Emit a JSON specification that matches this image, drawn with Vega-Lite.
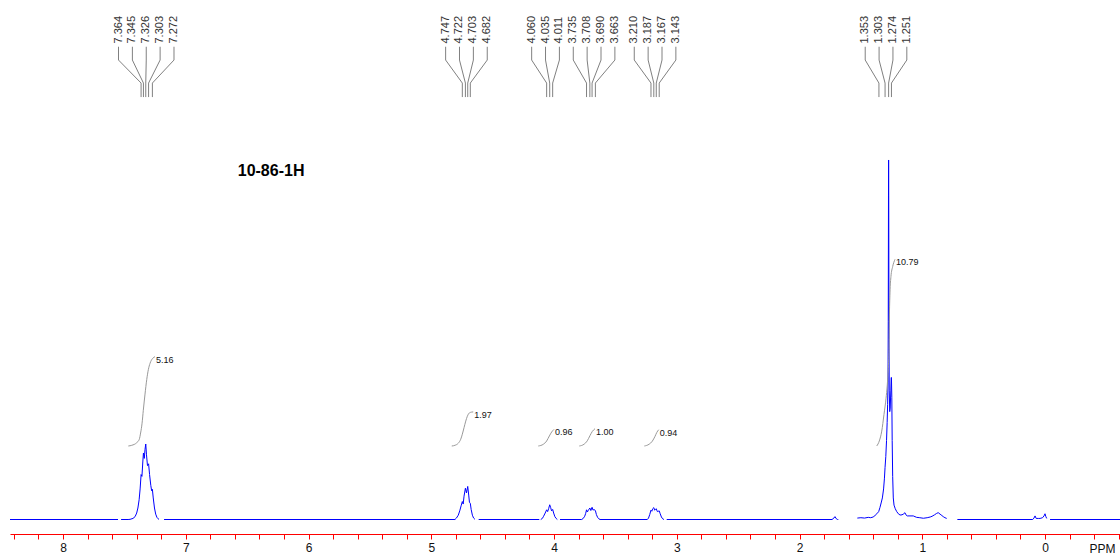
{
  "$schema": "https://vega.github.io/schema/vega-lite/v6.json",
  "width": 1110,
  "height": 534,
  "autosize": {"type": "none"},
  "padding": {"left": 10, "top": 0, "right": 0, "bottom": 19},
  "background": "white",
  "config": {
    "view": {"stroke": null},
    "font": "Liberation Sans",
    "axisX": {
      "domainColor": "#ff0000",
      "domainWidth": 1,
      "tickColor": "#ff0000",
      "tickWidth": 1,
      "tickSize": 5,
      "labelColor": "#111111",
      "labelFont": "Liberation Sans",
      "labelFontSize": 12,
      "labelPadding": 3,
      "labelOverlap": false,
      "labelFlush": false,
      "labelBound": false,
      "grid": false,
      "titleAnchor": "start",
      "titleAlign": "left",
      "titleBaseline": "top",
      "titleX": 1079,
      "titleY": 9,
      "titleFont": "Liberation Sans",
      "titleFontSize": 12,
      "titleFontWeight": "normal",
      "titleColor": "#111111"
    }
  },
  "datasets": {
    "spectrum": [
      {"ppm": 8.432, "i": 0, "seg": 1}, {"ppm": 7.552, "i": 0, "seg": 1},
      {"ppm": 7.527, "i": 0, "seg": 2}, {"ppm": 7.47, "i": 0, "seg": 2}, {"ppm": 7.454, "i": 0.05, "seg": 2},
      {"ppm": 7.43, "i": 0.3, "seg": 2}, {"ppm": 7.413, "i": 0.8, "seg": 2}, {"ppm": 7.4, "i": 1.8, "seg": 2},
      {"ppm": 7.39, "i": 3.2, "seg": 2}, {"ppm": 7.38, "i": 5.5, "seg": 2}, {"ppm": 7.372, "i": 8.5, "seg": 2},
      {"ppm": 7.364, "i": 12.5, "seg": 2}, {"ppm": 7.357, "i": 12.0, "seg": 2}, {"ppm": 7.35, "i": 16.0, "seg": 2},
      {"ppm": 7.345, "i": 18.5, "seg": 2}, {"ppm": 7.338, "i": 17.0, "seg": 2}, {"ppm": 7.332, "i": 19.5, "seg": 2},
      {"ppm": 7.326, "i": 21.0, "seg": 2}, {"ppm": 7.32, "i": 18.0, "seg": 2}, {"ppm": 7.312, "i": 15.0, "seg": 2},
      {"ppm": 7.303, "i": 15.5, "seg": 2}, {"ppm": 7.295, "i": 12.5, "seg": 2}, {"ppm": 7.285, "i": 9.5, "seg": 2},
      {"ppm": 7.278, "i": 8.0, "seg": 2}, {"ppm": 7.272, "i": 8.4, "seg": 2}, {"ppm": 7.265, "i": 6.0, "seg": 2},
      {"ppm": 7.255, "i": 3.2, "seg": 2}, {"ppm": 7.245, "i": 1.5, "seg": 2}, {"ppm": 7.235, "i": 0.6, "seg": 2},
      {"ppm": 7.225, "i": 0.2, "seg": 2}, {"ppm": 7.218, "i": 0, "seg": 2},
      {"ppm": 7.177, "i": 0, "seg": 3}, {"ppm": 4.807, "i": 0, "seg": 3}, {"ppm": 4.795, "i": 0.4, "seg": 3},
      {"ppm": 4.78, "i": 1.2, "seg": 3}, {"ppm": 4.768, "i": 2.4, "seg": 3}, {"ppm": 4.757, "i": 3.8, "seg": 3},
      {"ppm": 4.747, "i": 5.0, "seg": 3}, {"ppm": 4.74, "i": 4.3, "seg": 3}, {"ppm": 4.733, "i": 6.5, "seg": 3},
      {"ppm": 4.722, "i": 8.7, "seg": 3}, {"ppm": 4.713, "i": 7.4, "seg": 3}, {"ppm": 4.703, "i": 9.2, "seg": 3},
      {"ppm": 4.695, "i": 6.8, "seg": 3}, {"ppm": 4.689, "i": 4.8, "seg": 3}, {"ppm": 4.682, "i": 4.5, "seg": 3},
      {"ppm": 4.675, "i": 2.8, "seg": 3}, {"ppm": 4.665, "i": 1.2, "seg": 3}, {"ppm": 4.655, "i": 0.4, "seg": 3},
      {"ppm": 4.644, "i": 0.05, "seg": 3},
      {"ppm": 4.614, "i": 0, "seg": 4}, {"ppm": 4.12, "i": 0, "seg": 4},
      {"ppm": 4.108, "i": 0, "seg": 5}, {"ppm": 4.095, "i": 0.3, "seg": 5}, {"ppm": 4.085, "i": 0.9, "seg": 5},
      {"ppm": 4.072, "i": 1.8, "seg": 5}, {"ppm": 4.06, "i": 2.7, "seg": 5}, {"ppm": 4.052, "i": 2.2, "seg": 5},
      {"ppm": 4.044, "i": 3.0, "seg": 5}, {"ppm": 4.035, "i": 4.1, "seg": 5}, {"ppm": 4.027, "i": 3.3, "seg": 5},
      {"ppm": 4.02, "i": 2.4, "seg": 5}, {"ppm": 4.011, "i": 2.8, "seg": 5}, {"ppm": 4.003, "i": 1.8, "seg": 5},
      {"ppm": 3.993, "i": 0.8, "seg": 5}, {"ppm": 3.983, "i": 0.3, "seg": 5}, {"ppm": 3.973, "i": 0, "seg": 5},
      {"ppm": 3.951, "i": 0, "seg": 6}, {"ppm": 3.775, "i": 0, "seg": 6}, {"ppm": 3.762, "i": 0.3, "seg": 6},
      {"ppm": 3.75, "i": 0.9, "seg": 6}, {"ppm": 3.742, "i": 1.7, "seg": 6}, {"ppm": 3.735, "i": 2.7, "seg": 6},
      {"ppm": 3.728, "i": 2.1, "seg": 6}, {"ppm": 3.72, "i": 2.6, "seg": 6}, {"ppm": 3.714, "i": 2.9, "seg": 6},
      {"ppm": 3.708, "i": 3.2, "seg": 6}, {"ppm": 3.7, "i": 2.5, "seg": 6}, {"ppm": 3.69, "i": 3.4, "seg": 6},
      {"ppm": 3.682, "i": 2.6, "seg": 6}, {"ppm": 3.675, "i": 2.8, "seg": 6}, {"ppm": 3.663, "i": 2.5, "seg": 6},
      {"ppm": 3.655, "i": 1.4, "seg": 6}, {"ppm": 3.645, "i": 0.6, "seg": 6}, {"ppm": 3.635, "i": 0.2, "seg": 6},
      {"ppm": 3.625, "i": 0, "seg": 6}, {"ppm": 3.24, "i": 0, "seg": 6}, {"ppm": 3.23, "i": 0.4, "seg": 6},
      {"ppm": 3.22, "i": 1.4, "seg": 6}, {"ppm": 3.21, "i": 2.6, "seg": 6}, {"ppm": 3.203, "i": 2.3, "seg": 6},
      {"ppm": 3.196, "i": 3.0, "seg": 6}, {"ppm": 3.187, "i": 3.3, "seg": 6}, {"ppm": 3.18, "i": 2.6, "seg": 6},
      {"ppm": 3.173, "i": 2.8, "seg": 6}, {"ppm": 3.167, "i": 3.0, "seg": 6}, {"ppm": 3.158, "i": 2.2, "seg": 6},
      {"ppm": 3.15, "i": 2.3, "seg": 6}, {"ppm": 3.143, "i": 2.4, "seg": 6}, {"ppm": 3.135, "i": 1.6, "seg": 6},
      {"ppm": 3.125, "i": 0.7, "seg": 6}, {"ppm": 3.115, "i": 0.2, "seg": 6}, {"ppm": 3.104, "i": 0, "seg": 6},
      {"ppm": 3.082, "i": 0, "seg": 7}, {"ppm": 1.735, "i": 0, "seg": 7}, {"ppm": 1.72, "i": 0.4, "seg": 7},
      {"ppm": 1.711, "i": 0.8, "seg": 7}, {"ppm": 1.7, "i": 0.2, "seg": 7}, {"ppm": 1.69, "i": 0, "seg": 7},
      {"ppm": 1.684, "i": 0, "seg": 7},
      {"ppm": 1.529, "i": 0.4, "seg": 8}, {"ppm": 1.5, "i": 0.5, "seg": 8}, {"ppm": 1.47, "i": 0.4, "seg": 8},
      {"ppm": 1.44, "i": 0.6, "seg": 8}, {"ppm": 1.42, "i": 0.5, "seg": 8}, {"ppm": 1.4, "i": 0.7, "seg": 8},
      {"ppm": 1.385, "i": 1.1, "seg": 8}, {"ppm": 1.37, "i": 1.6, "seg": 8}, {"ppm": 1.355, "i": 2.2, "seg": 8},
      {"ppm": 1.345, "i": 3.3, "seg": 8}, {"ppm": 1.335, "i": 4.6, "seg": 8}, {"ppm": 1.325, "i": 6.0, "seg": 8},
      {"ppm": 1.315, "i": 8.5, "seg": 8}, {"ppm": 1.308, "i": 11.5, "seg": 8}, {"ppm": 1.303, "i": 14.5, "seg": 8},
      {"ppm": 1.297, "i": 17.5, "seg": 8}, {"ppm": 1.291, "i": 22, "seg": 8}, {"ppm": 1.286, "i": 27, "seg": 8},
      {"ppm": 1.282, "i": 32, "seg": 8}, {"ppm": 1.279, "i": 38, "seg": 8}, {"ppm": 1.277, "i": 55, "seg": 8},
      {"ppm": 1.275, "i": 90, "seg": 8}, {"ppm": 1.274, "i": 100, "seg": 8}, {"ppm": 1.273, "i": 90, "seg": 8},
      {"ppm": 1.271, "i": 50, "seg": 8}, {"ppm": 1.269, "i": 36, "seg": 8}, {"ppm": 1.265, "i": 30, "seg": 8},
      {"ppm": 1.261, "i": 31, "seg": 8}, {"ppm": 1.256, "i": 36, "seg": 8}, {"ppm": 1.253, "i": 39.5, "seg": 8},
      {"ppm": 1.251, "i": 39.5, "seg": 8}, {"ppm": 1.248, "i": 34, "seg": 8}, {"ppm": 1.245, "i": 22, "seg": 8},
      {"ppm": 1.241, "i": 12, "seg": 8}, {"ppm": 1.236, "i": 6, "seg": 8}, {"ppm": 1.23, "i": 4.0, "seg": 8},
      {"ppm": 1.22, "i": 3.0, "seg": 8}, {"ppm": 1.208, "i": 2.2, "seg": 8}, {"ppm": 1.195, "i": 1.6, "seg": 8},
      {"ppm": 1.181, "i": 1.25, "seg": 8}, {"ppm": 1.165, "i": 1.3, "seg": 8}, {"ppm": 1.15, "i": 1.6, "seg": 8},
      {"ppm": 1.141, "i": 1.9, "seg": 8}, {"ppm": 1.133, "i": 1.3, "seg": 8}, {"ppm": 1.122, "i": 1.0, "seg": 8},
      {"ppm": 1.1, "i": 1.0, "seg": 8}, {"ppm": 1.073, "i": 1.0, "seg": 8}, {"ppm": 1.046, "i": 0.6, "seg": 8},
      {"ppm": 1.02, "i": 0.5, "seg": 8}, {"ppm": 0.991, "i": 0.35, "seg": 8}, {"ppm": 0.96, "i": 0.5, "seg": 8},
      {"ppm": 0.935, "i": 0.7, "seg": 8}, {"ppm": 0.92, "i": 0.9, "seg": 8}, {"ppm": 0.9, "i": 1.3, "seg": 8},
      {"ppm": 0.883, "i": 1.7, "seg": 8}, {"ppm": 0.87, "i": 1.9, "seg": 8}, {"ppm": 0.855, "i": 1.5, "seg": 8},
      {"ppm": 0.84, "i": 1.1, "seg": 8}, {"ppm": 0.829, "i": 0.8, "seg": 8}, {"ppm": 0.815, "i": 0.5, "seg": 8},
      {"ppm": 0.801, "i": 0.3, "seg": 8},
      {"ppm": 0.714, "i": 0, "seg": 9}, {"ppm": 0.1, "i": 0, "seg": 9}, {"ppm": 0.09, "i": 0.4, "seg": 9},
      {"ppm": 0.081, "i": 1.0, "seg": 9}, {"ppm": 0.072, "i": 0.3, "seg": 9}, {"ppm": 0.055, "i": 0.3, "seg": 9},
      {"ppm": 0.04, "i": 0.3, "seg": 9}, {"ppm": 0.02, "i": 0.5, "seg": 9}, {"ppm": 0.008, "i": 1.0, "seg": 9},
      {"ppm": 0.0, "i": 1.6, "seg": 9}, {"ppm": -0.007, "i": 0.8, "seg": 9}, {"ppm": -0.014, "i": 0.3, "seg": 9},
      {"ppm": -0.041, "i": 0, "seg": 10}, {"ppm": -0.611, "i": 0, "seg": 10}
    ],
    "peaks": [
      {"shift": 7.364, "group": "a"}, {"shift": 7.345, "group": "a"}, {"shift": 7.326, "group": "a"},
      {"shift": 7.303, "group": "a"}, {"shift": 7.272, "group": "a"},
      {"shift": 4.747, "group": "b"}, {"shift": 4.722, "group": "b"}, {"shift": 4.703, "group": "b"},
      {"shift": 4.682, "group": "b"},
      {"shift": 4.06, "group": "c"}, {"shift": 4.035, "group": "c"}, {"shift": 4.011, "group": "c"},
      {"shift": 3.735, "group": "c"}, {"shift": 3.708, "group": "c"}, {"shift": 3.69, "group": "c"},
      {"shift": 3.663, "group": "c"},
      {"shift": 3.21, "group": "d"}, {"shift": 3.187, "group": "d"}, {"shift": 3.167, "group": "d"},
      {"shift": 3.143, "group": "d"},
      {"shift": 1.353, "group": "e"}, {"shift": 1.303, "group": "e"}, {"shift": 1.274, "group": "e"},
      {"shift": 1.251, "group": "e"}
    ],
    "integrals": [
      {"region": "r1", "ppm": 7.468, "cum": 0}, {"region": "r1", "ppm": 7.44, "cum": 0.04},
      {"region": "r1", "ppm": 7.4, "cum": 0.19}, {"region": "r1", "ppm": 7.379, "cum": 0.38},
      {"region": "r1", "ppm": 7.368, "cum": 0.75}, {"region": "r1", "ppm": 7.356, "cum": 1.32},
      {"region": "r1", "ppm": 7.346, "cum": 2.06}, {"region": "r1", "ppm": 7.332, "cum": 3.0},
      {"region": "r1", "ppm": 7.318, "cum": 3.84}, {"region": "r1", "ppm": 7.305, "cum": 4.41},
      {"region": "r1", "ppm": 7.291, "cum": 4.78}, {"region": "r1", "ppm": 7.269, "cum": 5.07},
      {"region": "r1", "ppm": 7.251, "cum": 5.16},
      {"region": "r2", "ppm": 4.833, "cum": 0}, {"region": "r2", "ppm": 4.807, "cum": 0.04},
      {"region": "r2", "ppm": 4.78, "cum": 0.16}, {"region": "r2", "ppm": 4.76, "cum": 0.39},
      {"region": "r2", "ppm": 4.747, "cum": 0.68}, {"region": "r2", "ppm": 4.733, "cum": 1.06},
      {"region": "r2", "ppm": 4.719, "cum": 1.44}, {"region": "r2", "ppm": 4.706, "cum": 1.72},
      {"region": "r2", "ppm": 4.69, "cum": 1.91}, {"region": "r2", "ppm": 4.671, "cum": 1.96},
      {"region": "r2", "ppm": 4.658, "cum": 1.97},
      {"region": "r3", "ppm": 4.128, "cum": 0}, {"region": "r3", "ppm": 4.087, "cum": 0.1},
      {"region": "r3", "ppm": 4.06, "cum": 0.29}, {"region": "r3", "ppm": 4.038, "cum": 0.58},
      {"region": "r3", "ppm": 4.019, "cum": 0.81}, {"region": "r3", "ppm": 4.0, "cum": 0.96},
      {"region": "r4", "ppm": 3.794, "cum": 0}, {"region": "r4", "ppm": 3.756, "cum": 0.1},
      {"region": "r4", "ppm": 3.729, "cum": 0.3}, {"region": "r4", "ppm": 3.707, "cum": 0.6},
      {"region": "r4", "ppm": 3.688, "cum": 0.84}, {"region": "r4", "ppm": 3.666, "cum": 1.0},
      {"region": "r5", "ppm": 3.264, "cum": 0}, {"region": "r5", "ppm": 3.226, "cum": 0.1},
      {"region": "r5", "ppm": 3.199, "cum": 0.28}, {"region": "r5", "ppm": 3.177, "cum": 0.56},
      {"region": "r5", "ppm": 3.163, "cum": 0.78}, {"region": "r5", "ppm": 3.147, "cum": 0.94},
      {"region": "r6", "ppm": 1.371, "cum": 0}, {"region": "r6", "ppm": 1.35, "cum": 0.29},
      {"region": "r6", "ppm": 1.33, "cum": 0.86}, {"region": "r6", "ppm": 1.312, "cum": 1.81},
      {"region": "r6", "ppm": 1.295, "cum": 2.76}, {"region": "r6", "ppm": 1.285, "cum": 3.52},
      {"region": "r6", "ppm": 1.277, "cum": 4.47}, {"region": "r6", "ppm": 1.271, "cum": 5.42},
      {"region": "r6", "ppm": 1.268, "cum": 7.32}, {"region": "r6", "ppm": 1.263, "cum": 8.85},
      {"region": "r6", "ppm": 1.255, "cum": 9.8}, {"region": "r6", "ppm": 1.241, "cum": 10.37},
      {"region": "r6", "ppm": 1.222, "cum": 10.79}
    ],
    "sample": [{"name": "10-86-1H"}]
  },
  "layer": [
    {
      "layer": [
        {
          "data": {"name": "spectrum"},
          "mark": {"type": "line", "color": "#0000ff", "strokeWidth": 1},
          "encoding": {
            "x": {
              "field": "ppm", "type": "quantitative",
              "scale": {"domain": [-0.611, 8.432], "reverse": true, "nice": false, "zero": false},
              "axis": {
                "title": "PPM",
                "tickCount": 100,
                "values": [8.4, 8.2, 8, 7.8, 7.6, 7.4, 7.2, 7, 6.8, 6.6, 6.4, 6.2, 6, 5.8, 5.6, 5.4, 5.2, 5, 4.8, 4.6, 4.4, 4.2, 4, 3.8, 3.6, 3.4, 3.2, 3, 2.8, 2.6, 2.4, 2.2, 2, 1.8, 1.6, 1.4, 1.2, 1, 0.8, 0.6, 0.4, 0.2, 0, -0.2, -0.4, -0.6],
                "labelExpr": "abs(datum.value - round(datum.value)) < 0.01 ? format(datum.value, 'd') : ''"
              }
            },
            "y": {"field": "i", "type": "quantitative", "scale": {"domain": [-4.03, 144.5], "nice": false, "zero": false}, "axis": null},
            "detail": {"field": "seg", "type": "nominal"}
          }
        },
        {
          "data": {"name": "sample"},
          "mark": {"type": "text", "fontSize": 16, "fontWeight": "bold", "font": "Liberation Sans", "color": "#000000", "align": "center", "baseline": "middle"},
          "encoding": {
            "x": {"datum": 6.305, "type": "quantitative"},
            "y": {"datum": 96.9, "type": "quantitative", "axis": null},
            "text": {"field": "name", "type": "nominal"}
          }
        },
        {
          "data": {"name": "peaks"},
          "transform": [
            {"joinaggregate": [{"op": "mean", "field": "shift", "as": "mid"}, {"op": "count", "as": "n"}], "groupby": ["group"]},
            {"window": [{"op": "row_number", "as": "k"}], "sort": [{"field": "shift", "order": "descending"}], "groupby": ["group"]},
            {"calculate": "datum.mid + ((datum.n + 1) / 2 - datum.k) * 0.113", "as": "slot"}
          ],
          "layer": [
            {
              "mark": {"type": "text", "angle": 270, "align": "left", "baseline": "middle", "fontSize": 11, "font": "Liberation Sans", "color": "#333333"},
              "encoding": {
                "x": {"field": "slot", "type": "quantitative"},
                "y": {"datum": 132.4, "type": "quantitative", "axis": null},
                "text": {"field": "shift", "type": "quantitative", "format": ".3f"}
              }
            },
            {
              "mark": {"type": "rule", "color": "#808080", "strokeWidth": 1},
              "encoding": {
                "x": {"field": "slot", "type": "quantitative"},
                "y": {"datum": 131.5, "type": "quantitative", "axis": null},
                "y2": {"datum": 127.8}
              }
            },
            {
              "mark": {"type": "rule", "color": "#808080", "strokeWidth": 1},
              "encoding": {
                "x": {"field": "slot", "type": "quantitative"},
                "x2": {"field": "shift"},
                "y": {"datum": 127.8, "type": "quantitative", "axis": null},
                "y2": {"datum": 121.4}
              }
            },
            {
              "mark": {"type": "rule", "color": "#808080", "strokeWidth": 1},
              "encoding": {
                "x": {"field": "shift", "type": "quantitative"},
                "y": {"datum": 121.4, "type": "quantitative", "axis": null},
                "y2": {"datum": 117.5}
              }
            }
          ]
        }
      ]
    },
    {
      "data": {"name": "integrals"},
      "layer": [
        {
          "mark": {"type": "line", "color": "#999999", "strokeWidth": 1, "interpolate": "monotone"},
          "encoding": {
            "x": {"field": "ppm", "type": "quantitative"},
            "y": {"field": "cum", "type": "quantitative", "scale": {"domain": [-5.087, 25.78], "nice": false, "zero": false}, "axis": null},
            "detail": {"field": "region", "type": "nominal"}
          }
        },
        {
          "transform": [
            {"window": [{"op": "row_number", "as": "k"}], "sort": [{"field": "ppm", "order": "ascending"}], "groupby": ["region"]},
            {"filter": "datum.k == 1"}
          ],
          "mark": {"type": "text", "align": "left", "baseline": "middle", "dx": 1, "dy": 3, "fontSize": 9, "font": "Liberation Sans", "color": "#111111"},
          "encoding": {
            "x": {"field": "ppm", "type": "quantitative"},
            "y": {"field": "cum", "type": "quantitative", "scale": {"domain": [-5.087, 25.78], "nice": false, "zero": false}, "axis": null},
            "text": {"field": "cum", "type": "quantitative", "format": ".2f"}
          }
        }
      ]
    }
  ],
  "resolve": {"scale": {"y": "independent"}}
}
